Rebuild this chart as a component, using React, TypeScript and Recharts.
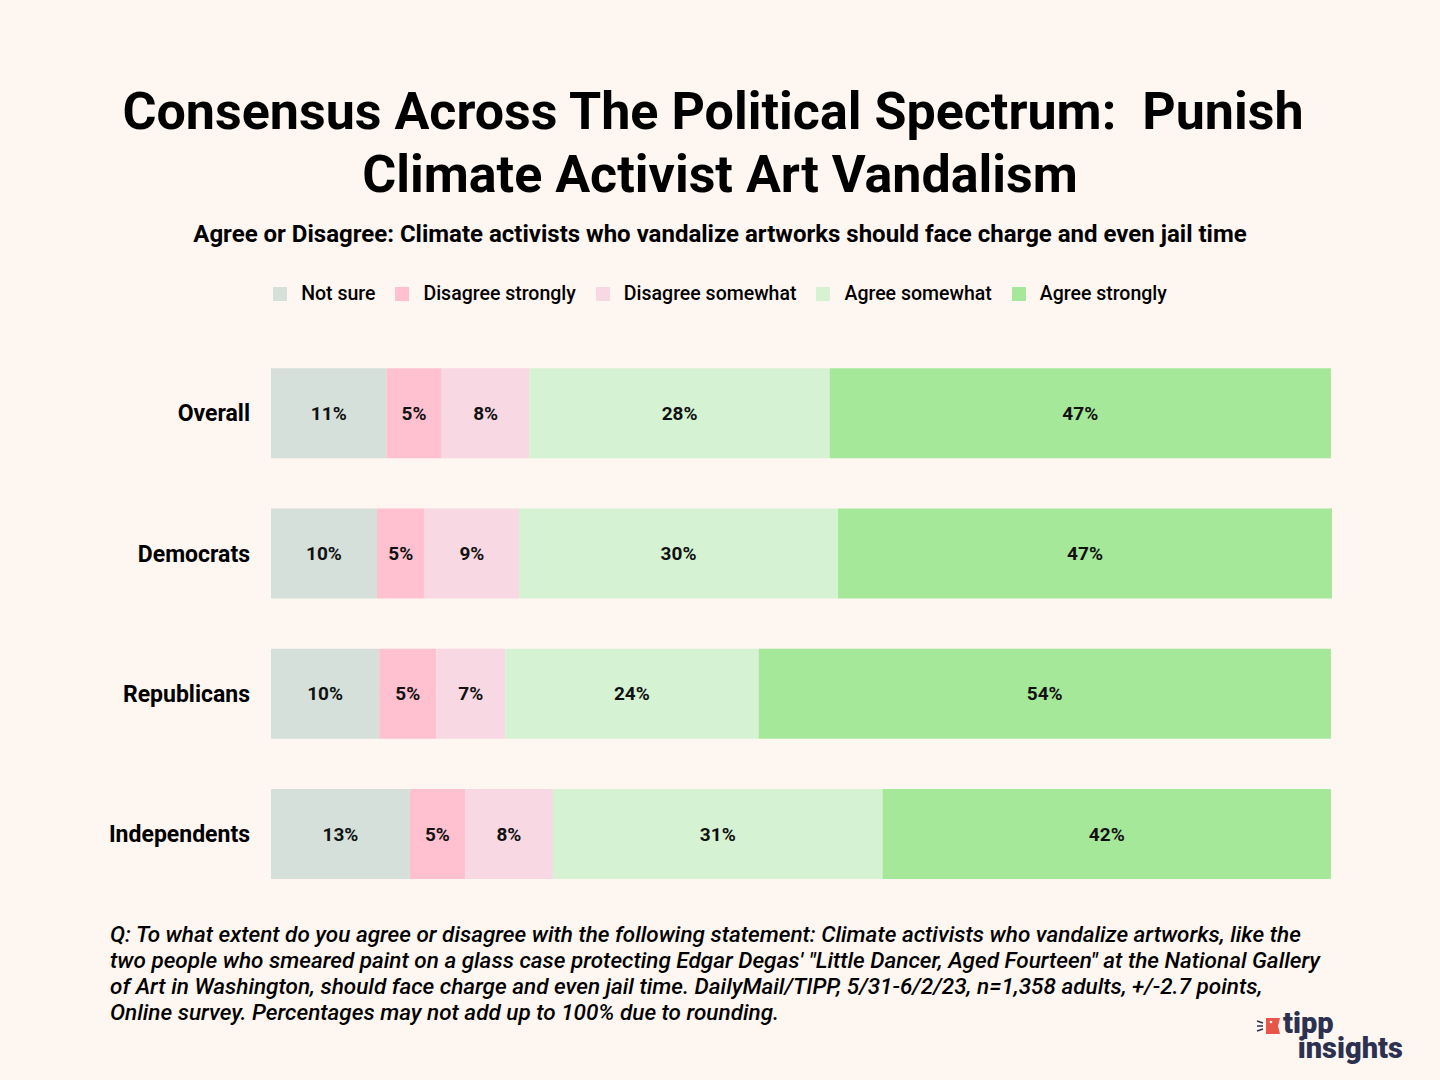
import React from "react";
import { BarChart, Bar, XAxis, YAxis, LabelList } from "recharts";

const groups = ["Overall", "Democrats", "Republicans", "Independents"];
const notSure = [10.9, 10.0, 10.2, 13.1];
const disagreeStrongly = [5.2, 4.5, 5.4, 5.2];
const disagreeSomewhat = [8.3, 8.9, 6.5, 8.3];
const agreeSomewhat = [28.3, 30.1, 23.9, 31.1];
const agreeStrongly = [47.3, 46.6, 54.0, 42.3];

const series = [
  { key: "notSure", name: "Not sure", color: "#d5e0da", values: notSure },
  { key: "disagreeStrongly", name: "Disagree strongly", color: "#ffc0cf", values: disagreeStrongly },
  { key: "disagreeSomewhat", name: "Disagree somewhat", color: "#f8d8e2", values: disagreeSomewhat },
  { key: "agreeSomewhat", name: "Agree somewhat", color: "#d5f3d3", values: agreeSomewhat },
  { key: "agreeStrongly", name: "Agree strongly", color: "#a6e89a", values: agreeStrongly },
];

const data = groups.map((g, i) => {
  const row: any = { group: g };
  series.forEach((s) => (row[s.key] = s.values[i]));
  return row;
});

const FONT = "Roboto, sans-serif";

const footLines = [
  "Q: To what extent do you agree or disagree with the following statement: Climate activists who vandalize artworks, like the",
  "two people who smeared paint on a glass case protecting Edgar Degas' \"Little Dancer, Aged Fourteen\" at the National Gallery",
  "of Art in Washington, should face charge and even jail time. DailyMail/TIPP, 5/31-6/2/23, n=1,358 adults, +/-2.7 points,",
  "Online survey. Percentages may not add up to 100% due to rounding.",
];

export default function App() {
  return (
    <div
      style={{
        position: "absolute",
        left: 0,
        top: 0,
        width: 1440,
        height: 1080,
        background: "#fdf6f1",
        fontFamily: FONT,
        color: "#000",
        overflow: "hidden",
      }}
    >
      <div
        style={{
          position: "absolute",
          top: 80,
          left: 0,
          width: 1440,
          textAlign: "center",
          fontSize: 52,
          fontWeight: 700,
          lineHeight: "63px",
        }}
      >
        <div style={{ paddingRight: 14 }}>Consensus Across The Political Spectrum:&nbsp; Punish</div>
        <div>Climate Activist Art Vandalism</div>
      </div>
      <div
        style={{
          position: "absolute",
          top: 220,
          left: 0,
          width: 1440,
          textAlign: "center",
          fontSize: 24,
          fontWeight: 700,
        }}
      >
        Agree or Disagree: Climate activists who vandalize artworks should face charge and even jail time
      </div>
      <div
        style={{
          position: "absolute",
          top: 282,
          left: 0,
          width: 1440,
          display: "flex",
          justifyContent: "center",
          fontSize: 19.5,
          fontWeight: 500,
        }}
      >
        {series.map((s) => (
          <div key={s.key} style={{ display: "flex", alignItems: "center", margin: "0 10px" }}>
            <div style={{ width: 14, height: 14, background: s.color, marginRight: 14 }} />
            <span>{s.name}</span>
          </div>
        ))}
      </div>
      <div style={{ position: "absolute", left: 0, top: 0 }}>
        <BarChart
          width={1440}
          height={1080}
          data={data}
          layout="vertical"
          margin={{ top: 343, right: 108, bottom: 176, left: 0 }}
          barCategoryGap="18%"
        >
          <XAxis type="number" domain={[0, 100]} hide />
          <YAxis
            type="category"
            dataKey="group"
            width={271}
            axisLine={false}
            tickLine={false}
            tickSize={0}
            tickMargin={21}
            tick={{ fill: "#000", fontSize: 23, fontWeight: 700, fontFamily: FONT }}
          />
          {series.map((s) => (
            <Bar key={s.key} dataKey={s.key} stackId="a" fill={s.color} isAnimationActive={false}>
              <LabelList
                dataKey={s.key}
                position="center"
                formatter={(v: any) => `${Math.round(Number(v))}%`}
                style={{ fill: "#111", fontSize: 19, fontWeight: 700, fontFamily: FONT }}
              />
            </Bar>
          ))}
        </BarChart>
      </div>
      <div
        style={{
          position: "absolute",
          top: 921,
          left: 110,
          fontSize: 22.5,
          fontStyle: "italic",
          fontWeight: 500,
          lineHeight: "26px",
          whiteSpace: "nowrap",
        }}
      >
        {footLines.map((l, i) => (
          <div key={i}>{l}</div>
        ))}
      </div>
      <div style={{ position: "absolute", left: 1256, top: 1013, width: 160, height: 60 }}>
        <svg width={40} height={30} style={{ position: "absolute", left: 0, top: 0 }}>
          <line x1={1} y1={8} x2={7} y2={10} stroke="#2d3150" strokeWidth={1.5} />
          <line x1={1} y1={13} x2={7} y2={13} stroke="#2d3150" strokeWidth={1.5} />
          <line x1={1} y1={18} x2={7} y2={16} stroke="#2d3150" strokeWidth={1.5} />
          <polygon points="10,5 24,5 22,13 24,21 10,21" fill="#e8564a" />
          <circle cx={15} cy={9} r={1.3} fill="#fff" />
        </svg>
        <div
          style={{
            position: "absolute",
            left: 27,
            top: -2,
            fontFamily: "Roboto, sans-serif",
            fontWeight: 900,
            fontSize: 29,
            color: "#2d3150",
            lineHeight: "25px",
            whiteSpace: "pre",
          }}
        >
          {"tipp\n\u2002insights"}
        </div>
      </div>
    </div>
  );
}
